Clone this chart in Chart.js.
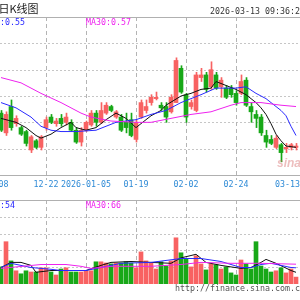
<!DOCTYPE html>
<html><head><meta charset="utf-8">
<script src="https://cdn.jsdelivr.net/npm/chart.js@4.4.1/dist/chart.umd.min.js"></script>
<style>
html,body{margin:0;padding:0;background:#fff;width:300px;height:300px;overflow:hidden;}
#wrap{position:relative;width:300px;height:300px;overflow:hidden;background:#fff;}
canvas{position:absolute;left:0;}
.t{position:absolute;white-space:nowrap;font-family:"DejaVu Sans Mono",monospace;font-size:8.3px;line-height:10px;}
#title{left:-1.5px;top:2px;font-family:"Noto Sans CJK SC",sans-serif;font-size:11px;line-height:13px;color:#222;}
#time{left:210px;top:6px;color:#333;}
#url{left:175px;top:283px;color:#555;}
#logo{position:absolute;left:277px;top:156px;font-family:"Liberation Sans",Arial,sans-serif;font-style:italic;font-weight:bold;font-size:12px;color:rgba(215,110,110,0.45);}
</style>
</head><body>
<div id="wrap">
<canvas id="pc" width="300" height="195" style="top:0;width:300px;height:195px"></canvas>
<canvas id="vc" width="300" height="110" style="top:190px;width:300px;height:110px"></canvas>
<div id="title" class="t">日K线图</div>
<div id="time" class="t">2026-03-13 09:36:2</div>
<div class="t" style="left:-20px;top:17px;color:#2a2aff">MA10:0.55</div>
<div class="t" style="left:86px;top:17px;color:#ee22ee">MA30:0.57</div>
<div class="t" style="left:-20px;top:200px;color:#2a2aff">MA10:54</div>
<div class="t" style="left:86px;top:200px;color:#ee22ee">MA30:66</div>
<div id="url" class="t">http://finance.sina.com.cn</div>
<div id="logo">sina</div>
</div>
<script>
// ---- data ----
const tickSlots  = [-1, 9, 17, 27, 37, 47, 60];
const tickLabels = ["12-08","12-22","2026-01-05","01-19","02-02","02-24","03-13"];
const gridSlots  = [9, 17, 27, 37, 47];
const priceGrid  = [0.54, 0.56, 0.58, 0.60, 0.62];
const volGrid    = [56, 112, 168, 224];

const open  = [.567,.552,.572,.559,.556,.553,.539,.546,.541,.556,.564,.559,.563,.560,.560,.554,.545,.554,.558,.567,.560,.567,.572,.564,.564,.560,.562,.547,.564,.569,.575,.578,.573,.572,.568,.575,.601,.581,.572,.569,.594,.596,.587,.596,.587,.586,.586,.582,.582,.592,.572,.566,.564,.550,.547,.541,.543,.540,.541,.541];
const high  = [.569,.568,.577,.565,.557,.554,.550,.547,.550,.564,.566,.563,.566,.567,.562,.556,.556,.561,.569,.569,.575,.575,.573,.569,.566,.567,.567,.562,.577,.577,.581,.583,.575,.575,.581,.609,.603,.582,.577,.598,.601,.598,.606,.598,.594,.588,.588,.584,.596,.594,.575,.569,.566,.554,.550,.550,.544,.544,.544,.544];
const low   = [.553,.550,.554,.557,.550,.542,.537,.540,.539,.554,.559,.557,.557,.558,.553,.544,.542,.553,.557,.557,.559,.566,.568,.563,.553,.552,.549,.545,.563,.567,.573,.577,.569,.560,.567,.575,.582,.560,.570,.568,.591,.583,.585,.585,.579,.578,.579,.573,.581,.572,.560,.556,.550,.541,.543,.540,.530,.537,.539,.539];
const close = [.554,.566,.556,.563,.551,.544,.549,.541,.549,.562,.560,.561,.559,.564,.554,.545,.554,.560,.567,.560,.569,.573,.569,.568,.554,.556,.550,.560,.575,.572,.579,.579,.571,.564,.579,.607,.583,.564,.575,.596,.596,.585,.600,.586,.592,.579,.581,.575,.591,.573,.568,.563,.552,.545,.544,.548,.537,.541,.543,.542];
const volume = [57,141,77,44,34,44,40,40,54,54,40,30,50,54,40,40,40,44,44,74,74,70,67,70,70,74,70,54,107,77,70,50,74,60,77,154,104,84,57,94,67,47,67,64,50,57,37,30,80,67,50,141,60,50,40,44,54,37,50,23];

const ma5Slots  = [0,3,5,7,8,10,12,14,15,17,19,21,23,25,27,28,30,32,33,36,38,40,42,43,45,47,49,51,52,53,54,55,56,57,59];
const ma5       = [.563,.560,.556,.550,.548,.551,.556,.560,.556,.554,.556,.562,.567,.563,.556,.559,.565,.569,.573,.580,.582,.585,.586,.591,.588,.585,.581,.575,.571,.566,.559,.551,.546,.542,.541];
const ma10Slots = [0,3,6,8,10,12,15,19,23,27,30,33,36,40,43,47,49,51,53,55,56,57,58,59];
const ma10      = [.575,.571,.564,.557,.554,.553,.553,.554,.560,.562,.566,.569,.575,.581,.586,.586,.587,.582,.578,.572,.569,.565,.557,.550];
const ma30Slots = [0,4,8,12,16,18,22,27,30,34,38,42,46,48,52,56,59];
const ma30      = [.594,.590,.582,.575,.567,.564,.561,.560,.560,.563,.566,.568,.573,.575,.575,.573,.572];

const volMa5Slots  = [0,2,4,6,7,10,13,17,20,22,26,30,34,36,38,39,41,44,48,50,52,53,55,58,59];
const volMa5       = [55,72,72,62,39,45,45,45,62,72,75,72,69,87,95,99,72,62,52,55,72,82,69,45,39];
const volMa10Slots = [0,2,6,10,12,17,20,24,30,36,40,44,48,50,52,54,58,59];
const volMa10      = [55,69,55,49,45,45,55,69,72,85,85,75,55,55,65,69,55,54];
const volMa30Slots = [0,8,13,16,18,22,30,36,40,46,52,59];
const volMa30      = [52,65,65,59,52,59,59,65,72,69,69,66];

// ---- styles ----
const RED = '#f86262', GREEN = '#18a818';
const C5 = '#111111', C10 = '#2a2aff', C30 = '#ee22ee';
const WICK_SHIFT = 0.1;
const X_MIN = -0.2, X_MAX = 59.8;

const slots = close.map((_, i) => i);
const colors = close.map((c, i) => c >= open[i] ? RED : GREEN);

function lineDs(xs, ys, color) {
  return {type:'line', data: xs.map((s, i) => ({x:s, y:ys[i]})), borderColor:color, borderWidth:1,
          pointRadius:0, fill:false, tension:0, order:0};
}

function panelPlugin(hVals, vSlots, opts) {
  return {
    id: 'panel' + opts.name,
    beforeDatasetsDraw(chart) {
      const {ctx, chartArea: a, scales: {x, y}} = chart;
      ctx.save();
      ctx.lineWidth = 1;
      ctx.strokeStyle = '#c6c6c6';
      ctx.setLineDash([2, 2]);
      hVals.forEach(v => {
        const py = Math.round(y.getPixelForValue(v)) + 0.5;
        ctx.beginPath(); ctx.moveTo(0, py); ctx.lineTo(chart.width, py); ctx.stroke();
      });
      ctx.strokeStyle = '#b4b4b4';
      ctx.setLineDash([4, 3]);
      vSlots.forEach(s => {
        const px = Math.round(x.getPixelForValue(s)) + 0.5;
        ctx.beginPath(); ctx.moveTo(px, a.top); ctx.lineTo(px, a.bottom + opts.ext); ctx.stroke();
      });
      ctx.setLineDash([]);
      ctx.strokeStyle = '#b0b0b0';
      ctx.beginPath(); ctx.moveTo(0, a.top + 0.5); ctx.lineTo(chart.width, a.top + 0.5); ctx.stroke();
      if (opts.bottomLine) {
        ctx.beginPath(); ctx.moveTo(0, a.bottom + 0.5); ctx.lineTo(chart.width, a.bottom + 0.5); ctx.stroke();
      }
      if (opts.labels) {
        ctx.font = '8.3px "DejaVu Sans Mono", monospace';
        ctx.fillStyle = '#2e8ad6';
        ctx.textAlign = 'center';
        ctx.textBaseline = 'middle';
        tickSlots.forEach((s, i) => {
          const w = ctx.measureText(tickLabels[i]).width;
          let px = x.getPixelForValue(s);
          px = Math.min(px, a.right - w / 2);
          ctx.fillText(tickLabels[i], px, a.bottom + 9.5);
        });
      }
      ctx.restore();
    }
  };
}

const common = {
  responsive:false, animation:false, devicePixelRatio:1, events:[],
  plugins:{legend:{display:false}, tooltip:{enabled:false}}
};

new Chart(document.getElementById('pc'), {
  type:'bar',
  data:{datasets:[
    {type:'bar', data: slots.map((s, i) => ({x: s + WICK_SHIFT, y:[low[i], high[i]]})),
     backgroundColor: colors, barThickness:1, grouped:false, order:3},
    {type:'bar', data: slots.map((s, i) => ({x: s, y:[open[i], close[i]]})),
     backgroundColor: colors, barThickness:4, minBarLength:1, grouped:false, order:2},
    lineDs(ma30Slots, ma30, C30),
    lineDs(ma10Slots, ma10, C10),
    lineDs(ma5Slots, ma5, C5)
  ]},
  options:Object.assign({}, common, {
    layout:{padding:{top:17, bottom:20, left:0, right:0}},
    scales:{
      x:{type:'linear', min:X_MIN, max:X_MAX, display:false, offset:false},
      y:{type:'linear', min:0.52, max:0.64, display:false, beginAtZero:false}
    }
  }),
  plugins:[panelPlugin(priceGrid, gridSlots, {name:'p', ext:5, bottomLine:true, labels:true})]
});

new Chart(document.getElementById('vc'), {
  type:'bar',
  data:{datasets:[
    {type:'bar', data: slots.map((s, i) => ({x:s, y:volume[i]})),
     backgroundColor: colors, barThickness:4, grouped:false, order:2},
    lineDs(volMa30Slots, volMa30, C30),
    lineDs(volMa10Slots, volMa10, C10),
    lineDs(volMa5Slots, volMa5, C5)
  ]},
  options:Object.assign({}, common, {
    layout:{padding:{top:10, bottom:16, left:0, right:0}},
    scales:{
      x:{type:'linear', min:X_MIN, max:X_MAX, display:false, offset:false},
      y:{type:'linear', min:0, max:280, display:false}
    }
  }),
  plugins:[panelPlugin(volGrid, gridSlots, {name:'v', ext:0, bottomLine:false, labels:false})]
});
</script>
</body></html>
